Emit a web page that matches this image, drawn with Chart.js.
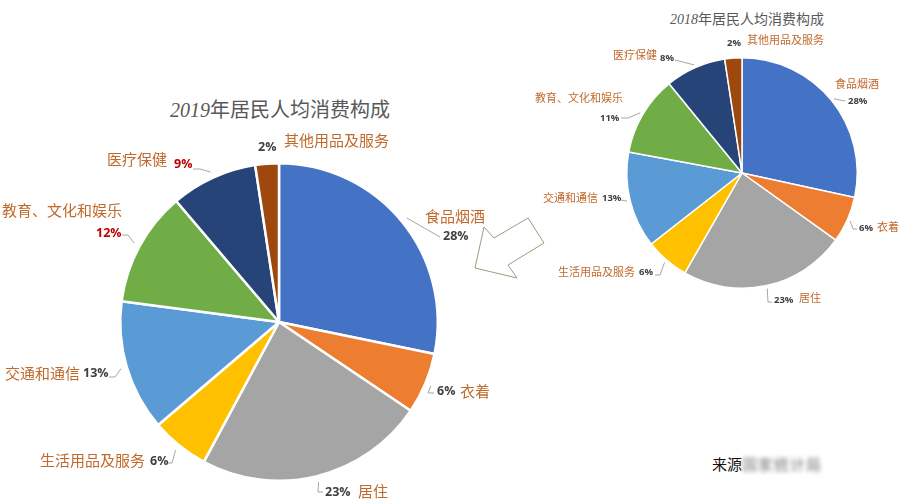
<!DOCTYPE html>
<html>
<head>
<meta charset="utf-8">
<script src="https://cdn.jsdelivr.net/npm/chart.js@4/dist/chart.umd.min.js"></script>
<style>
  body { margin: 0; background: #fff; }
  #page { position: relative; width: 904px; height: 500px; overflow: hidden; background: #fff; }
  canvas { position: absolute; }
  .title { position: absolute; color: #595959; white-space: nowrap; font-family: "Liberation Serif", "Noto Sans CJK SC", serif; transform: translate(-50%, -50%); }
  .title span { font-family: "Noto Sans CJK SC", sans-serif; }
  #src { position: absolute; left: 712px; top: 453px; font: 15px "Noto Sans CJK SC", sans-serif; color: #111; white-space: nowrap; }
  #src i { font-style: normal; color: #777; filter: blur(2px); letter-spacing: 1px; }
</style>
</head>
<body>
<div id="page">
  <div class="title" style="left:280px;top:108px;font-size:20px;font-style:italic">2019<span style="font-style:normal">年居民人均消费构成</span></div>
  <div class="title" style="left:747px;top:18px;font-size:14px;font-style:italic">2018<span style="font-style:normal">年居民人均消费构成</span></div>
  <svg style="position:absolute;left:0;top:0" width="904" height="500">
    <polygon points="475,268 484,227 494,238 528,218 544,243 508,265 517,278" fill="none" stroke="#9c9c80" stroke-width="1"/>
  </svg>
  <canvas id="pie2019" width="520" height="500" style="left:0;top:0"></canvas>
  <canvas id="pie2018" width="384" height="320" style="left:520px;top:0"></canvas>
  <div id="src">来源<i>国家统计局</i></div>
</div>
<script>
// 居民人均消费支出构成（%）
const categories = ['食品烟酒', '衣着', '居住', '生活用品及服务', '交通和通信', '教育、文化和娱乐', '医疗保健', '其他用品及服务'];
const share2019 = [28.2, 6.2, 23.4, 5.9, 13.3, 11.7, 8.8, 2.4];
const share2018 = [28.4, 6.49, 23.4, 6.16, 13.47, 11.21, 8.49, 2.4];
const colors = ['#4472C4', '#ED7D31', '#A5A5A5', '#FFC000', '#5B9BD5', '#70AD47', '#264478', '#9E480E'];

// label placement (canvas px): name / pct text left-middle, leader line points after the arc anchor
const layout2019 = [
  { name: [425, 216], pct: [443, 236], line: [[440, 237]] },
  { name: [460, 391], pct: [437, 391], line: [[428, 393], [434, 393]] },
  { name: [358, 491], pct: [325, 492], line: [[318, 492], [323, 492]] },
  { name: [40, 460], pct: [150, 461], line: [[172, 463], [168, 463]] },
  { name: [5, 373], pct: [83, 373], line: [[115, 377], [109, 377]] },
  { name: [2, 210], pct: [96, 233], line: [[128, 235], [122, 235]] },
  { name: [107, 159], pct: [174, 164], line: [[200, 169], [193, 169]] },
  { name: [284, 140], pct: [258, 147], line: null }
];
const layout2018 = [
  { name: [315, 84], pct: [328, 101], line: [[325, 101]] },
  { name: [357, 227], pct: [339, 228], line: [[333, 229], [337, 229]] },
  { name: [279, 298], pct: [254, 300], line: [[248, 302], [252, 302]] },
  { name: [38, 272], pct: [119, 272], line: [[140, 275], [135, 275]] },
  { name: [23, 198], pct: [82, 198], line: [[101, 200]] },
  { name: [15, 98], pct: [80, 118], line: [[108, 118], [101, 118]] },
  { name: [93, 55], pct: [140, 58], line: [[155, 60]] },
  { name: [227, 40], pct: [207, 43], line: null }
];

const leaderLabels = {
  id: 'leaderLabels',
  afterDatasetsDraw(chart, args, o) {
    const ctx = chart.ctx;
    const meta = chart.getDatasetMeta(0);
    ctx.save();
    meta.data.forEach((arc, i) => {
      const L = o.layout[i];
      const mid = (arc.startAngle + arc.endAngle) / 2;
      const r = arc.outerRadius + o.gap;
      const ax = arc.x + Math.cos(mid) * r;
      const ay = arc.y + Math.sin(mid) * r;
      if (L.line) {
        ctx.beginPath();
        ctx.moveTo(ax, ay);
        L.line.forEach(p => ctx.lineTo(p[0], p[1]));
        ctx.strokeStyle = '#A6A6A6';
        ctx.lineWidth = 1;
        ctx.stroke();
      }
      ctx.textAlign = 'left';
      ctx.textBaseline = 'middle';
      ctx.fillStyle = '#C0692B';
      ctx.font = o.nameFont;
      ctx.fillText(categories[i], L.name[0], L.name[1]);
      ctx.fillStyle = o.red.includes(i) ? '#C00000' : '#404040';
      ctx.font = o.pctFont;
      ctx.fillText(Math.round(chart.data.datasets[0].data[i]) + '%', L.pct[0], L.pct[1]);
    });
    ctx.restore();
  }
};

function makePie(id, values, pad, border, labelOpts) {
  return new Chart(document.getElementById(id), {
    type: 'pie',
    data: {
      labels: categories,
      datasets: [{
        data: values,
        backgroundColor: colors,
        borderColor: '#ffffff',
        borderWidth: border
      }]
    },
    options: {
      responsive: false,
      animation: false,
      events: [],
      layout: { padding: pad },
      plugins: {
        legend: { display: false },
        tooltip: { enabled: false },
        leaderLabels: labelOpts
      }
    },
    plugins: [leaderLabels]
  });
}

makePie('pie2019', share2019, { left: 119, right: 81, top: 162, bottom: 18 }, 2.5, {
  layout: layout2019, gap: 6, red: [5, 6],
  nameFont: '15px "Noto Sans CJK SC", sans-serif',
  pctFont: 'bold 12.5px "Open Sans", "DejaVu Sans", sans-serif'
});
makePie('pie2018', share2018, { left: 106, right: 46, top: 57, bottom: 31 }, 1.5, {
  layout: layout2018, gap: 3, red: [],
  nameFont: '11px "Noto Sans CJK SC", sans-serif',
  pctFont: 'bold 9.5px "Open Sans", "DejaVu Sans", sans-serif'
});
</script>
</body>
</html>
